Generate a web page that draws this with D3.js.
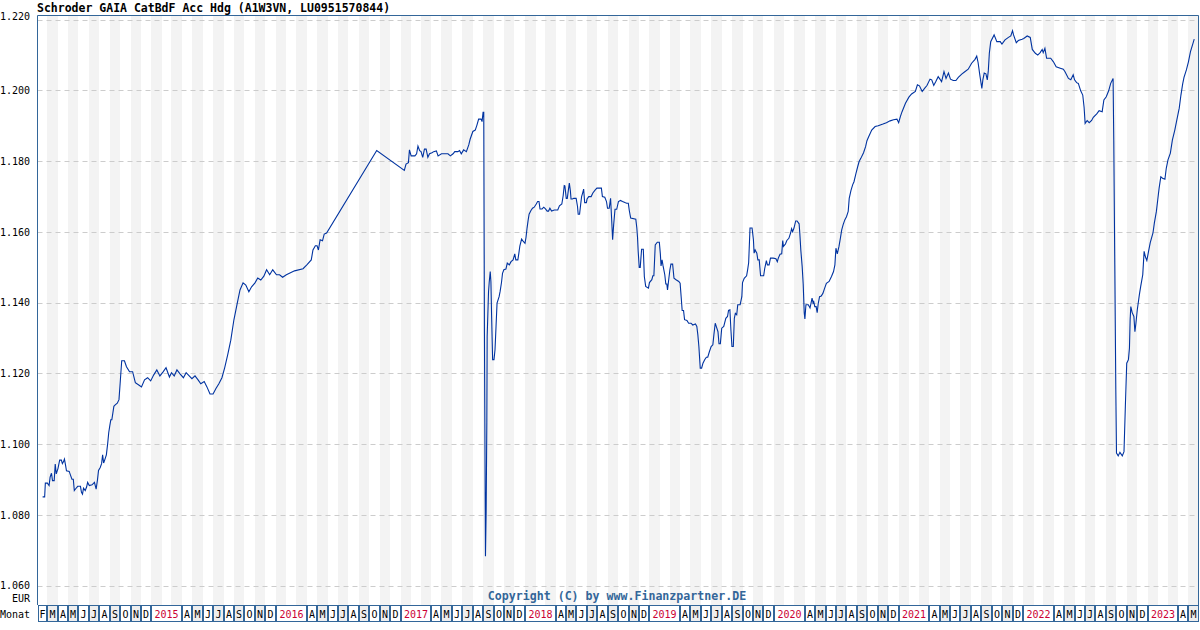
<!DOCTYPE html>
<html><head><meta charset="utf-8">
<script src="https://cdn.jsdelivr.net/npm/d3@7"></script>
<style>body{margin:0;background:#fff;} svg{display:block;}</style>
</head><body>
<svg id="chart" width="1200" height="630"></svg>
<script>
const title = "Schroder GAIA CatBdF Acc Hdg (A1W3VN, LU0951570844)";
const copyright = "Copyright (C) by www.Finanzpartner.DE";
const currencyLabel = "EUR";
const monthAxisLabel = "Monat";
const yTicks = [1.06, 1.08, 1.10, 1.12, 1.14, 1.16, 1.18, 1.20, 1.22];
const monthLetters = ["J","F","M","A","M","J","J","A","S","O","N","D"];
const axisStart = "2014-02-01", axisEnd = "2023-06-01";

const dates = [
"2014-02-16","2014-02-22","2014-02-24","2014-03-02","2014-03-07","2014-03-10","2014-03-14","2014-03-17","2014-03-22","2014-03-25","2014-03-28","2014-04-02","2014-04-07","2014-04-12","2014-04-15","2014-04-18","2014-04-21","2014-04-24","2014-04-27","2014-05-05","2014-05-09","2014-05-13","2014-05-17","2014-05-20","2014-05-24","2014-05-30","2014-06-07","2014-06-10","2014-06-13","2014-06-16","2014-06-21","2014-06-25","2014-06-28","2014-07-03","2014-07-11","2014-07-18","2014-07-23","2014-07-27","2014-07-30","2014-08-04","2014-08-08","2014-08-11","2014-08-14","2014-08-18","2014-08-22","2014-08-26","2014-08-29","2014-09-01","2014-09-04","2014-09-07","2014-09-10","2014-09-13","2014-09-17","2014-09-23","2014-09-28","2014-10-02","2014-10-06","2014-10-14","2014-10-20","2014-10-29","2014-11-07","2014-11-15","2014-11-24","2014-12-03","2014-12-12","2014-12-21","2014-12-30",
"2015-01-08","2015-01-17","2015-01-26","2015-02-05","2015-02-13","2015-02-23","2015-03-01","2015-03-09","2015-03-17","2015-03-26","2015-04-05","2015-04-13","2015-04-22","2015-04-30","2015-05-09","2015-05-18","2015-05-26","2015-06-05","2015-06-13","2015-06-22","2015-07-01","2015-07-09","2015-07-18","2015-07-27","2015-08-04","2015-08-13","2015-08-22","2015-08-31","2015-09-10","2015-09-18","2015-09-27","2015-10-05","2015-10-14","2015-10-22","2015-11-01","2015-11-09","2015-11-18","2015-11-27","2015-12-05","2015-12-14","2015-12-23",
"2016-01-03","2016-01-12","2016-01-21","2016-02-01","2016-02-25","2016-03-21","2016-04-01","2016-04-14","2016-04-19","2016-04-26","2016-05-01","2016-05-05","2016-05-10","2016-05-17","2016-05-22","2016-05-29","2016-10-23",
"2017-01-12","2017-01-17","2017-01-24","2017-01-27","2017-02-01","2017-02-12","2017-02-17","2017-02-21","2017-02-26","2017-03-02","2017-03-07","2017-03-12","2017-03-17","2017-03-22","2017-03-27","2017-04-03","2017-04-08","2017-04-16","2017-04-21","2017-05-01","2017-05-10","2017-05-20","2017-05-27","2017-06-04","2017-06-09","2017-06-18","2017-06-23","2017-06-28","2017-07-05","2017-07-13","2017-07-20","2017-07-24","2017-08-01","2017-08-08","2017-08-13","2017-08-18","2017-08-25","2017-08-28","2017-08-31","2017-09-02","2017-09-04","2017-09-07","2017-09-09","2017-09-11","2017-09-12","2017-09-16","2017-09-18","2017-09-21","2017-09-23","2017-09-25","2017-09-28","2017-10-02","2017-10-05","2017-10-08","2017-10-11","2017-10-17","2017-10-20","2017-10-24","2017-10-27","2017-10-31","2017-11-06","2017-11-10","2017-11-16","2017-11-21","2017-11-27","2017-12-02","2017-12-05","2017-12-11","2017-12-14","2017-12-17","2017-12-22","2017-12-27",
"2018-01-01","2018-01-04","2018-01-07","2018-01-10","2018-01-13","2018-01-18","2018-01-23","2018-01-28","2018-02-03","2018-02-07","2018-02-11","2018-02-14","2018-02-20","2018-02-25","2018-03-02","2018-03-07","2018-03-11","2018-03-15","2018-03-20","2018-03-28","2018-04-07","2018-04-12","2018-04-19","2018-04-23","2018-04-26","2018-04-28","2018-05-02","2018-05-05","2018-05-08","2018-05-11","2018-05-14","2018-05-16","2018-05-20","2018-05-24","2018-05-31","2018-06-04","2018-06-06","2018-06-10","2018-06-13","2018-06-16","2018-06-19","2018-06-22","2018-06-25","2018-06-30","2018-07-02","2018-07-07","2018-07-14","2018-07-19","2018-07-26","2018-07-31","2018-08-13","2018-08-16","2018-08-23","2018-08-28","2018-08-31","2018-09-05","2018-09-09","2018-09-12","2018-09-15","2018-09-18","2018-09-22","2018-09-27","2018-10-02","2018-10-08","2018-10-14","2018-10-21","2018-10-26","2018-10-31","2018-11-03","2018-11-07","2018-11-22","2018-11-25","2018-11-27","2018-11-29","2018-12-02","2018-12-05","2018-12-07","2018-12-09","2018-12-14","2018-12-17","2018-12-21","2018-12-29",
"2019-01-01","2019-01-08","2019-01-11","2019-01-14","2019-01-18","2019-01-24","2019-01-30","2019-02-02","2019-02-04","2019-02-07","2019-02-10","2019-02-15","2019-02-18","2019-02-21","2019-02-23","2019-02-27","2019-03-02","2019-03-05","2019-03-10","2019-03-14","2019-03-20","2019-03-28","2019-04-01","2019-04-04","2019-04-07","2019-04-11","2019-04-14","2019-04-21","2019-04-26","2019-05-03","2019-05-08","2019-05-16","2019-05-20","2019-05-23","2019-05-26","2019-05-30","2019-06-03","2019-06-07","2019-06-12","2019-06-17","2019-06-21","2019-06-26","2019-07-01","2019-07-06","2019-07-09","2019-07-13","2019-07-16","2019-07-21","2019-07-24","2019-07-28","2019-08-01","2019-08-07","2019-08-13","2019-08-18","2019-08-21","2019-08-25","2019-08-28","2019-08-31","2019-09-04","2019-09-07","2019-09-10","2019-09-14","2019-09-17","2019-09-24","2019-09-29","2019-10-01","2019-10-06","2019-10-13","2019-10-16","2019-10-19","2019-10-23","2019-10-29","2019-11-02","2019-11-04","2019-11-07","2019-11-12","2019-11-15","2019-11-19","2019-11-21","2019-11-23","2019-12-02","2019-12-05","2019-12-10","2019-12-13","2019-12-18","2019-12-22","2019-12-30",
"2020-01-07","2020-01-11","2020-01-14","2020-01-19","2020-01-24","2020-01-27","2020-01-29","2020-02-04","2020-02-08","2020-02-14","2020-02-19","2020-02-22","2020-02-25","2020-02-29","2020-03-05","2020-03-09","2020-03-15","2020-03-17","2020-03-20","2020-03-24","2020-03-27","2020-03-30","2020-04-01","2020-04-04","2020-04-11","2020-04-16","2020-04-19","2020-04-22","2020-04-25","2020-04-27","2020-04-30","2020-05-04","2020-05-07","2020-05-10","2020-05-14","2020-05-19","2020-05-24","2020-05-29","2020-06-03","2020-06-11","2020-06-18","2020-06-24","2020-06-28","2020-07-01","2020-07-05","2020-07-10","2020-07-14","2020-07-18","2020-07-22","2020-07-27","2020-08-01","2020-08-06","2020-08-09","2020-08-14","2020-08-19","2020-08-23","2020-08-29","2020-09-03","2020-09-07","2020-09-12","2020-09-20","2020-09-26","2020-09-30","2020-10-05","2020-10-14","2020-10-24","2020-11-02","2020-11-16","2020-11-26","2020-12-07","2020-12-17","2020-12-27",
"2021-01-01","2021-01-06","2021-01-11","2021-01-21","2021-01-31","2021-02-08","2021-02-19","2021-02-25","2021-03-03","2021-03-11","2021-03-18","2021-03-25","2021-04-03","2021-04-08","2021-04-14","2021-04-20","2021-04-27","2021-05-07","2021-05-14","2021-05-20","2021-05-27","2021-06-02","2021-06-10","2021-06-18","2021-06-25","2021-07-05","2021-07-14","2021-07-24","2021-08-03","2021-08-13","2021-08-18","2021-08-22","2021-08-27","2021-09-02","2021-09-05","2021-09-09","2021-09-14","2021-09-18","2021-09-21","2021-09-24","2021-09-28","2021-10-08","2021-10-16","2021-10-26","2021-10-31","2021-11-09","2021-11-19","2021-11-26","2021-12-01","2021-12-04","2021-12-12","2021-12-18","2021-12-29",
"2022-01-03","2022-01-13","2022-01-22","2022-01-28","2022-02-02","2022-02-06","2022-02-13","2022-02-20","2022-02-26","2022-03-01","2022-03-06","2022-03-11","2022-03-23","2022-03-31","2022-04-08","2022-04-20","2022-04-29","2022-05-04","2022-05-14","2022-05-21","2022-05-28","2022-06-01","2022-06-07","2022-06-12","2022-06-19","2022-06-25","2022-06-29","2022-07-02","2022-07-08","2022-07-14","2022-07-21","2022-07-26","2022-08-05","2022-08-12","2022-08-21","2022-08-26","2022-09-02","2022-09-09","2022-09-15","2022-09-22","2022-09-24","2022-09-27","2022-09-30","2022-10-02","2022-10-07","2022-10-12","2022-10-19","2022-10-24","2022-10-28","2022-11-01","2022-11-06","2022-11-09","2022-11-11","2022-11-13","2022-11-17","2022-11-22","2022-11-25","2022-11-28","2022-12-02","2022-12-08","2022-12-12","2022-12-18","2022-12-22","2022-12-26","2022-12-30",
"2023-01-04","2023-01-09","2023-01-17","2023-01-21","2023-01-27","2023-01-31","2023-02-04","2023-02-09","2023-02-14","2023-02-21","2023-02-25","2023-03-02","2023-03-09","2023-03-15","2023-03-22","2023-03-28","2023-04-04","2023-04-09","2023-04-14","2023-04-18","2023-04-25","2023-05-01","2023-05-07","2023-05-13","2023-05-18"
];

const values = [
1.0851,1.0851,1.0890,1.0890,1.0883,1.0907,1.0918,1.0897,1.0897,1.0944,1.0916,1.0931,1.0955,1.0955,1.0945,1.0950,1.0958,1.0942,1.0925,1.0923,1.0912,1.0901,1.0901,1.0869,1.0874,1.0881,1.0881,1.0864,1.0859,1.0876,1.0869,1.0879,1.0892,1.0883,1.0885,1.0892,1.0873,1.0900,1.0926,1.0934,1.0945,1.0970,1.0947,1.0958,1.0970,1.1003,1.1033,1.1052,1.1069,1.1069,1.1088,1.1107,1.1111,1.1116,1.1126,1.1180,1.1236,1.1236,1.1219,1.1205,1.1205,1.1174,1.1168,1.1162,1.1182,1.1188,1.1179,
1.1196,1.1210,1.1193,1.1205,1.1216,1.1190,1.1202,1.1193,1.1210,1.1199,1.1188,1.1202,1.1193,1.1185,1.1193,1.1182,1.1171,1.1177,1.1162,1.1142,1.1142,1.1157,1.1171,1.1188,1.1216,1.1253,1.1294,1.1351,1.1399,1.1436,1.1456,1.1450,1.1431,1.1445,1.1456,1.1470,1.1464,1.1475,1.1493,1.1479,1.1493,
1.1479,1.1479,1.1472,1.1479,1.1490,1.1496,1.1507,1.1521,1.1549,1.1561,1.1561,1.1549,1.1578,1.1575,1.1594,1.1597,1.1830,
1.1774,1.1792,1.1796,1.1832,1.1815,1.1815,1.1821,1.1843,1.1830,1.1827,1.1811,1.1834,1.1834,1.1811,1.1821,1.1824,1.1827,1.1829,1.1815,1.1821,1.1821,1.1821,1.1815,1.1821,1.1827,1.1827,1.1830,1.1821,1.1832,1.1827,1.1846,1.1862,1.1884,1.1888,1.1902,1.1919,1.1919,1.1912,1.1938,1.1938,1.1314,1.0683,1.0809,1.1061,1.1304,1.1431,1.1458,1.1488,1.1459,1.1364,1.1239,1.1239,1.1267,1.1333,1.1399,1.1417,1.1432,1.1457,1.1483,1.1493,1.1495,1.1512,1.1507,1.1516,1.1521,1.1538,1.1521,1.1521,1.1540,1.1561,1.1580,1.1573,
1.1568,1.1585,1.1611,1.1632,1.1650,1.1660,1.1667,1.1670,1.1679,1.1686,1.1686,1.1665,1.1665,1.1670,1.1665,1.1659,1.1659,1.1667,1.1659,1.1662,1.1662,1.1674,1.1679,1.1703,1.1731,1.1730,1.1695,1.1695,1.1717,1.1738,1.1717,1.1693,1.1693,1.1695,1.1695,1.1672,1.1650,1.1650,1.1676,1.1700,1.1710,1.1721,1.1683,1.1683,1.1693,1.1700,1.1700,1.1710,1.1719,1.1724,1.1724,1.1700,1.1698,1.1686,1.1667,1.1667,1.1695,1.1639,1.1578,1.1620,1.1664,1.1664,1.1686,1.1689,1.1686,1.1683,1.1681,1.1681,1.1660,1.1639,1.1636,1.1611,1.1585,1.1545,1.1500,1.1500,1.1526,1.1551,1.1551,1.1474,1.1446,1.1441,
1.1457,1.1465,1.1476,1.1476,1.1563,1.1571,1.1571,1.1538,1.1504,1.1521,1.1504,1.1479,1.1453,1.1453,1.1436,1.1469,1.1493,1.1509,1.1509,1.1469,1.1465,1.1460,1.1455,1.1417,1.1378,1.1378,1.1352,1.1350,1.1342,1.1342,1.1337,1.1340,1.1333,1.1309,1.1276,1.1215,1.1215,1.1229,1.1239,1.1246,1.1246,1.1262,1.1276,1.1281,1.1309,1.1342,1.1333,1.1318,1.1284,1.1284,1.1328,1.1333,1.1356,1.1361,1.1378,1.1380,1.1323,1.1276,1.1276,1.1356,1.1370,1.1366,1.1394,1.1394,1.1417,1.1457,1.1469,1.1476,1.1493,1.1513,1.1611,1.1611,1.1578,1.1540,1.1549,1.1540,1.1521,1.1521,1.1498,1.1476,1.1476,1.1496,1.1519,1.1507,1.1507,1.1526,1.1526,
1.1524,1.1516,1.1526,1.1537,1.1538,1.1576,1.1559,1.1566,1.1576,1.1582,1.1597,1.1609,1.1601,1.1611,1.1631,1.1631,1.1623,1.1597,1.1549,1.1502,1.1453,1.1372,1.1354,1.1394,1.1394,1.1385,1.1399,1.1413,1.1399,1.1403,1.1389,1.1389,1.1372,1.1397,1.1417,1.1419,1.1427,1.1441,1.1455,1.1460,1.1474,1.1488,1.1507,1.1554,1.1538,1.1559,1.1582,1.1606,1.1620,1.1634,1.1643,1.1658,1.1695,1.1717,1.1733,1.1742,1.1766,1.1785,1.1799,1.1808,1.1824,1.1841,1.1858,1.1869,1.1888,1.1898,1.1900,1.1905,1.1909,1.1914,1.1917,1.1919,
1.1909,1.1926,1.1940,1.1964,1.1981,1.1990,1.1997,1.2016,1.2013,1.1997,1.2006,1.2014,1.2032,1.2030,1.2014,1.2025,1.2039,1.2025,1.2053,1.2034,1.2049,1.2032,1.2028,1.2028,1.2037,1.2046,1.2053,1.2060,1.2077,1.2088,1.2097,1.2079,1.2044,1.2006,1.2030,1.2049,1.2047,1.2030,1.2056,1.2105,1.2138,1.2157,1.2138,1.2138,1.2131,1.2143,1.2150,1.2154,1.2169,1.2157,1.2135,1.2141,1.2145,
1.2147,1.2154,1.2150,1.2116,1.2110,1.2105,1.2100,1.2107,1.2116,1.2107,1.2119,1.2091,1.2091,1.2081,1.2067,1.2063,1.2060,1.2053,1.2034,1.2030,1.2044,1.2030,1.2022,1.2020,1.1999,1.1987,1.1952,1.1907,1.1915,1.1909,1.1915,1.1924,1.1934,1.1943,1.1940,1.1973,1.1982,1.1999,1.2020,1.2034,1.1860,1.1507,1.1154,1.0975,1.0967,1.0977,1.0967,1.0979,1.1107,1.1229,1.1239,1.1272,1.1352,1.1389,1.1372,1.1361,1.1318,1.1342,1.1380,1.1422,1.1446,1.1479,1.1545,1.1529,1.1519,
1.1545,1.1570,1.1597,1.1625,1.1658,1.1691,1.1724,1.1756,1.1752,1.1749,1.1780,1.1804,1.1823,1.1860,1.1888,1.1917,1.1950,1.1987,1.2018,1.2037,1.2058,1.2081,1.2110,1.2129,1.2145
];

const parse = d3.timeParse("%Y-%m-%d");
const series = dates.map((d, i) => ({date: parse(d), v: values[i]})).filter(d => d.v !== undefined);

const plotLeft = 37.5, plotRight = 1199, plotTop = 15, plotBottom = 605, rowBottom = 622;
const frameColor = "#336699";
const mono = "'DejaVu Sans Mono', 'Liberation Mono', monospace";

const svg = d3.select("#chart");
const t0 = parse(axisStart), t1 = parse(axisEnd);
const x = d3.scaleTime().domain([t0, t1]).range([plotLeft, plotRight]);
const y = d3.scaleLinear().domain([1.06, 1.22]).range([585.7, 19.7]);

const months = d3.timeMonth.range(t0, t1);
const rx = d => Math.round(x(d));

// stripes (alternate months)
svg.append("g").selectAll("rect")
  .data(months.filter(d => d.getMonth() % 2 === 0))
  .join("rect")
  .attr("x", d => rx(d))
  .attr("width", d => rx(d3.timeMonth.offset(d, 1)) - rx(d))
  .attr("y", plotTop).attr("height", plotBottom - plotTop)
  .attr("fill", "#f3f3f3");

// gridlines
svg.append("g").selectAll("line")
  .data(yTicks)
  .join("line")
  .attr("x1", plotLeft).attr("x2", plotRight)
  .attr("y1", d => Math.round(y(d)) + 0.5).attr("y2", d => Math.round(y(d)) + 0.5)
  .attr("stroke", "#cccccc").attr("stroke-width", 1)
  .attr("stroke-dasharray", "5,4");

// y labels
svg.append("g").selectAll("text")
  .data(yTicks)
  .join("text")
  .attr("x", 30).attr("text-anchor", "end")
  .attr("y", d => d === yTicks[yTicks.length - 1] ? 19.5 : y(d) + 3.6)
  .attr("font-family", mono).attr("font-size", 10).attr("fill", "#000")
  .text(d => d3.format(".3f")(d));

svg.append("text").attr("x", 30).attr("y", 601.5).attr("text-anchor", "end")
  .attr("font-family", mono).attr("font-size", 10).text(currencyLabel);
svg.append("text").attr("x", 0).attr("y", 618).attr("text-anchor", "start")
  .attr("font-family", mono).attr("font-size", 10).text(monthAxisLabel);

// copyright
svg.append("text").attr("x", 617).attr("y", 600).attr("text-anchor", "middle")
  .attr("font-family", mono).attr("font-size", 11.6).attr("font-weight", "bold")
  .attr("fill", frameColor).text(copyright);

// data line
const line = d3.line().x(d => x(d.date)).y(d => y(d.v));
svg.append("path").datum(series)
  .attr("d", line)
  .attr("fill", "none").attr("stroke", "#0033a0").attr("stroke-width", 1.1)
  .attr("stroke-linejoin", "miter");

// month cells
const cells = [];
months.forEach(d => {
  const m = d.getMonth();
  const yearStartInRange = d3.timeYear.floor(d) >= t0;
  if (m === 0) {
    cells.push({start: d, end: d3.timeMonth.offset(d, 3), label: String(d.getFullYear()), year: true, shade: false});
  } else if ((m === 1 || m === 2) && yearStartInRange) {
    // covered by the year cell
  } else {
    cells.push({start: d, end: d3.timeMonth.offset(d, 1), label: monthLetters[m], year: false, shade: m % 2 === 0});
  }
});
const cg = svg.append("g");
cg.selectAll("rect").data(cells).join("rect")
  .attr("x", d => rx(d.start) + 0.5)
  .attr("width", d => Math.min(rx(d.end), Math.round(plotRight)) - rx(d.start) - 1)
  .attr("y", plotBottom + 0.5).attr("height", rowBottom - plotBottom - 1)
  .attr("fill", d => d.shade ? "#eeeeee" : "#ffffff")
  .attr("stroke", frameColor).attr("stroke-width", 1);
cg.selectAll("text").data(cells).join("text")
  .attr("x", d => (rx(d.start) + Math.min(rx(d.end), Math.round(plotRight))) / 2)
  .attr("y", 618)
  .attr("text-anchor", "middle")
  .attr("font-family", mono).attr("font-size", 10)
  .attr("fill", d => d.year ? "#cc0033" : "#000")
  .text(d => d.label);

// frame
svg.append("path")
  .attr("d", `M${plotLeft},${plotBottom}V${plotTop + 0.5}H${plotRight - 0.5}V${plotBottom}`)
  .attr("fill", "none").attr("stroke", frameColor).attr("stroke-width", 1);

// title
svg.append("text").attr("x", 37).attr("y", 12)
  .attr("font-family", mono).attr("font-size", 11.5).attr("font-weight", "bold")
  .attr("fill", "#000").text(title);
</script>
</body></html>
